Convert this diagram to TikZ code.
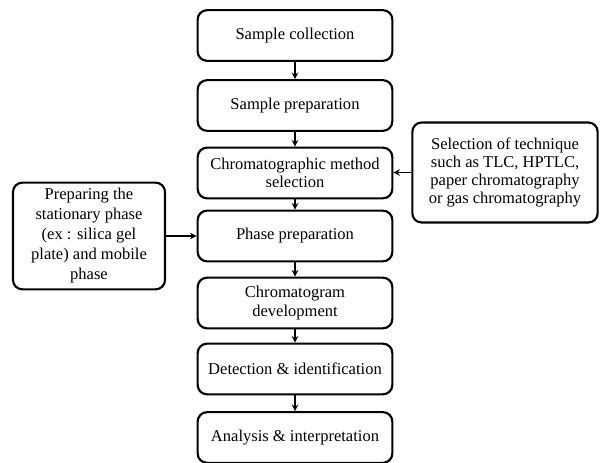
\documentclass[tikz,border=0pt]{standalone}
\usepackage{fontspec}
\setmainfont{Liberation Serif}
\usepackage{tikz}
\usetikzlibrary{positioning}

\tikzset{
  stepbox/.style={draw, line width=1.6pt, rounded corners=7pt, align=center,
    minimum width=146pt, minimum height=38pt, inner sep=1pt,
    font=\fontsize{12.4}{13.6}\selectfont},
  sidebox/.style={stepbox, minimum width=0pt, minimum height=0pt},
  link/.style={->, >=stealth, line width=1.2pt}
}

\begin{document}
\begin{tikzpicture}[x=0.75pt, y=-0.75pt]
  \useasboundingbox (0, 0) rectangle (600, 463);

  \node[stepbox] (collect) at (295, 35.5) {Sample collection};
  \node[stepbox] (prep) at (295, 105.5) {Sample preparation};
  \node[stepbox] (method) at (295, 173) {Chromatographic method\\selection};
  \node[stepbox] (phase) at (295, 236) {Phase preparation};
  \node[stepbox] (develop) at (295, 303) {Chromatogram\\development};
  \node[stepbox] (detect) at (295, 369) {Detection \& identification};
  \node[stepbox] (analysis) at (295, 437.5) {Analysis \& interpretation};

  \node[sidebox, minimum width=114pt, minimum height=80pt,
    font=\fontsize{12.4}{15}\selectfont] (stationary) at (89, 236)
    {Preparing the\\stationary phase\\(ex : silica gel\\plate) and mobile\\phase};
  \node[sidebox, minimum width=139pt, minimum height=75pt] (technique) at (505, 172.5)
    {Selection of technique\\such as TLC, HPTLC,\\paper chromatography\\or gas chromatography};

  \foreach \a/\b in {collect/prep, prep/method, method/phase, phase/develop, develop/detect, detect/analysis} {
    \draw[link] (\a.south) -- (\b.north);
  }
  \draw[link] (stationary.east) -- (phase.west);
  \draw[link] (technique.west) -- (method.east |- technique.west);

\end{tikzpicture}
\end{document}
